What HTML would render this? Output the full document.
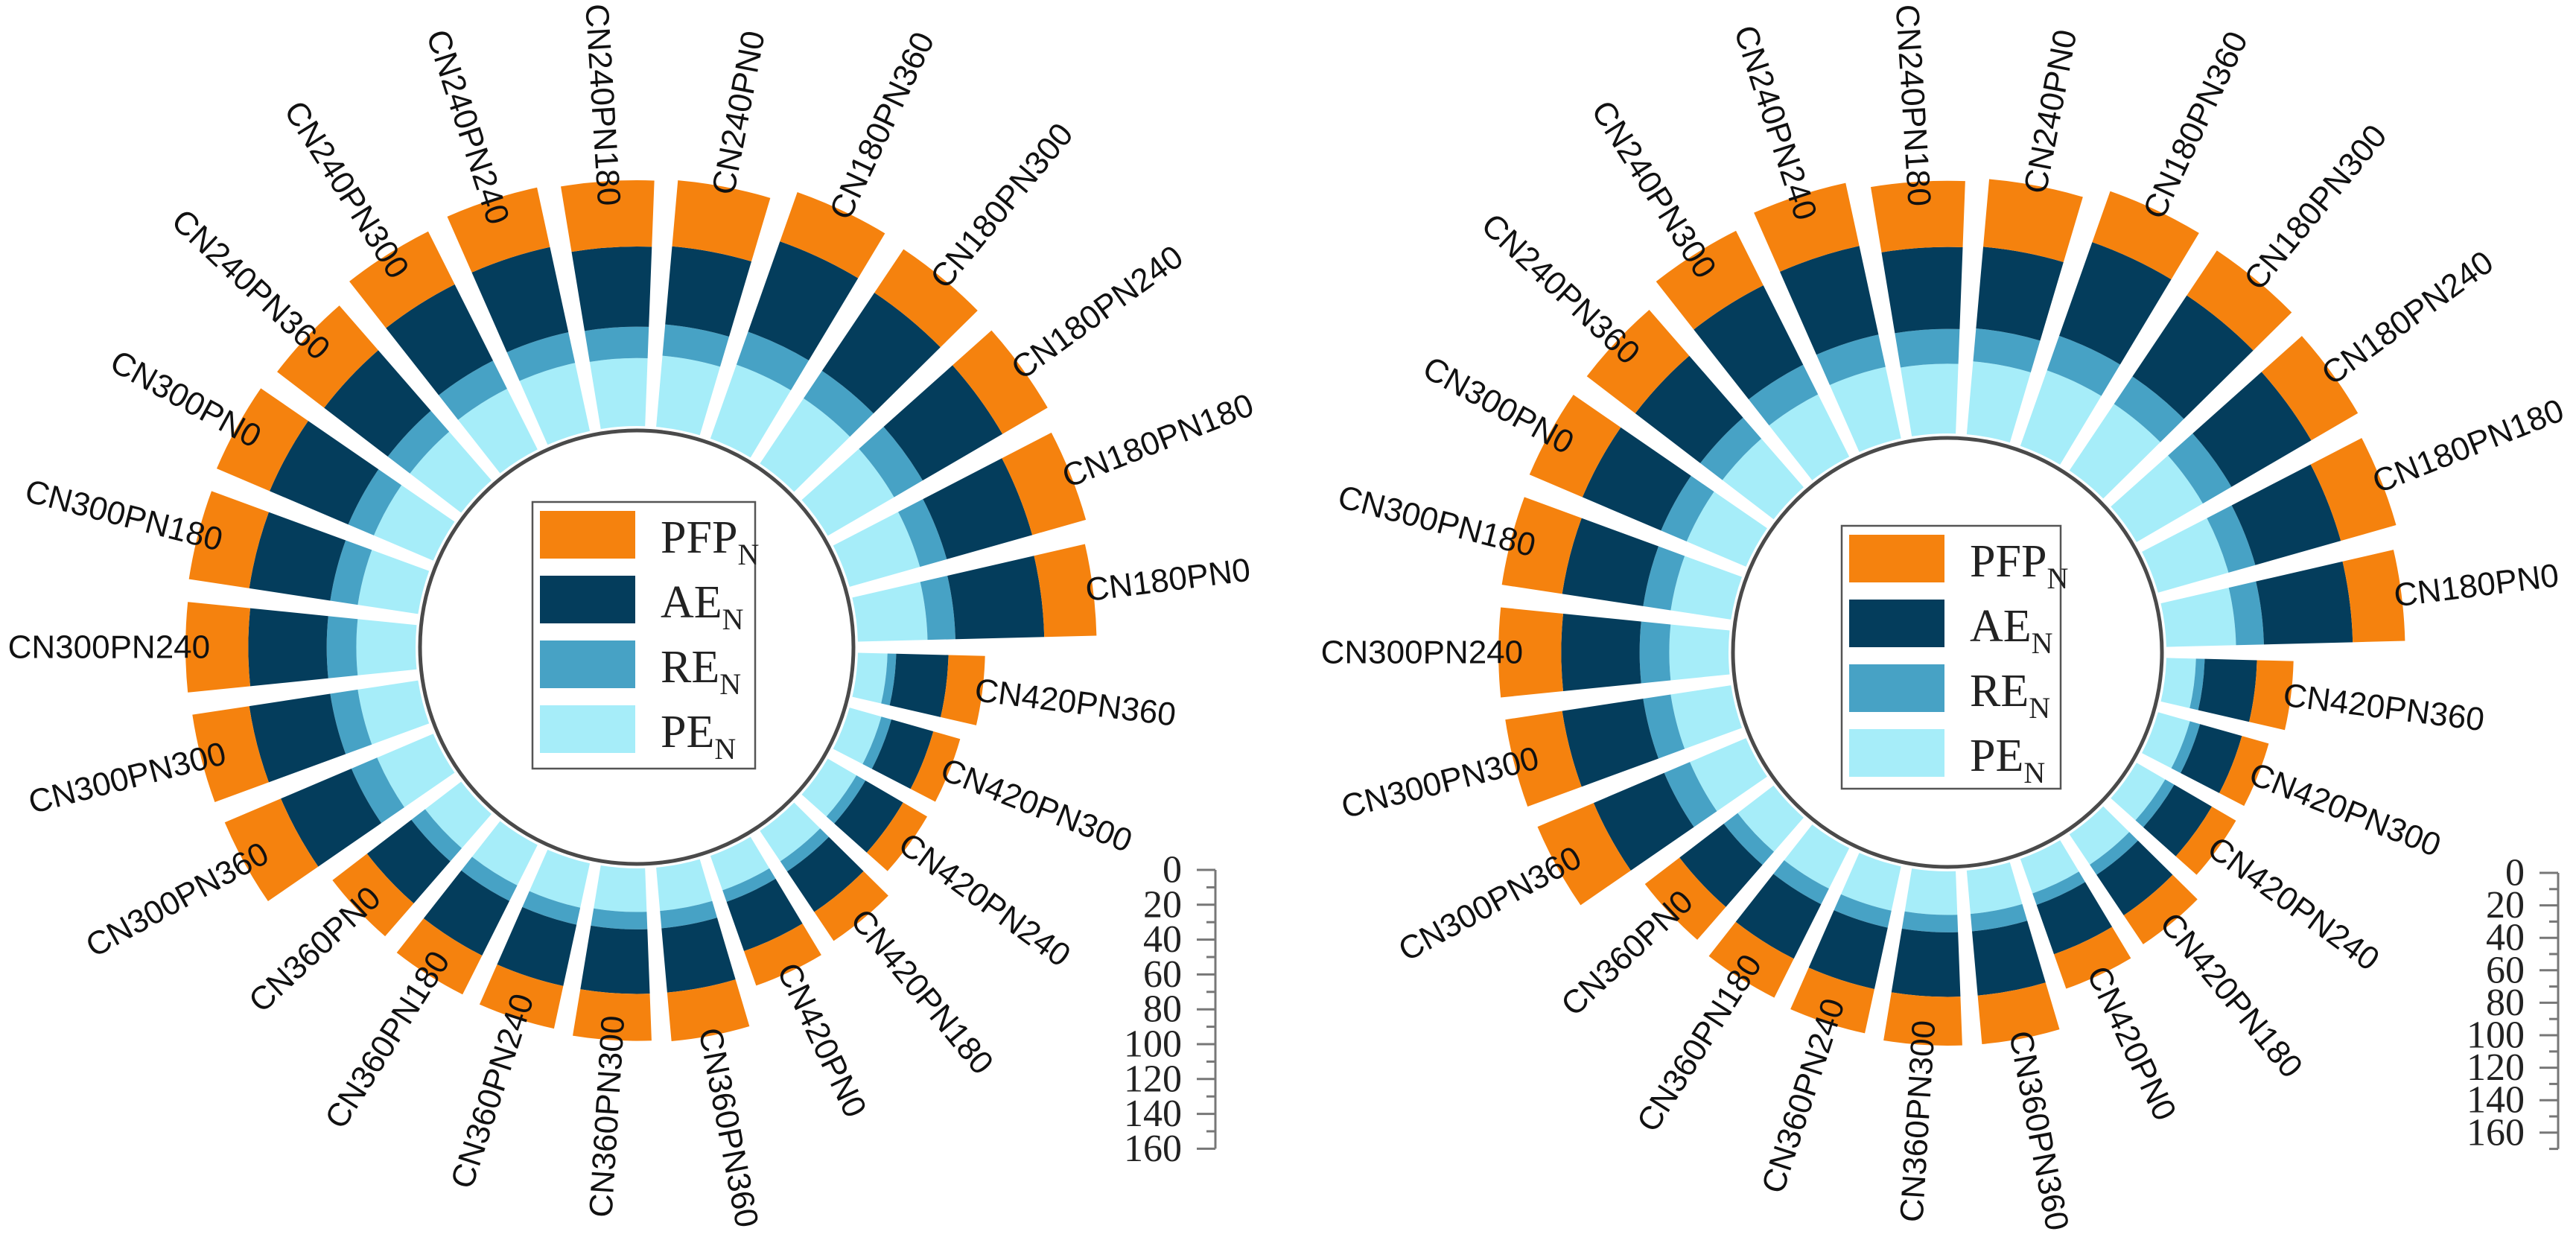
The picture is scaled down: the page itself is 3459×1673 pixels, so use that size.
<!DOCTYPE html>
<html><head><meta charset="utf-8"><style>
html,body{margin:0;padding:0;background:#fff;}
svg{display:block;}
</style></head><body>
<svg id="chart" width="3459" height="1673" viewBox="0 0 3459 1673" xmlns="http://www.w3.org/2000/svg">
<rect width="3459" height="1673" fill="#fff"/>
<g id="left"></g>
<g id="right"></g>
</svg>
<script>
const categories = ["CN180PN0","CN180PN180","CN180PN240","CN180PN300","CN180PN360",
"CN240PN0","CN240PN180","CN240PN240","CN240PN300","CN240PN360",
"CN300PN0","CN300PN180","CN300PN240","CN300PN300","CN300PN360",
"CN360PN0","CN360PN180","CN360PN240","CN360PN300","CN360PN360",
"CN420PN0","CN420PN180","CN420PN240","CN420PN300","CN420PN360"];
const seriesNames = ["PE","RE","AE","PFP"];
const leftPE  = [40,42,44,45,45,41,39,40,39,37,37,35,34,35,35,26,26,26,25,25,21,21,19,19,17];
const leftRE  = [16,16,19,19,20,18,18,18,18,16,16,16,17,16,16,10,10,10,10,10,7,7,6,6,5];
const leftAE  = [51,51,53,54,55,45,46,50,49,46,49,47,45,47,44,32,35,36,37,37,30,28,25,25,30];
const leftPFP = [30,32,30,30,30,38,38,35,34,34,33,35,36,33,35,25,25,25,27,28,21,20,16,16,21];
const rightPE  = [40,42,44,46,46,42,40,42,40,37,37,35,34,35,35,26,26,26,25,25,21,21,19,19,17];
const rightRE  = [16,16,19,19,21,19,20,19,19,16,16,16,17,16,16,10,10,10,10,10,7,7,6,6,5];
const rightAE  = [51,51,53,56,57,47,47,52,51,47,49,47,45,47,44,32,35,36,37,37,30,28,25,25,30];
const rightPFP = [30,33,31,31,31,39,38,37,35,35,33,35,36,33,35,25,25,26,28,28,21,20,16,16,21];
const tickLabels = [0,20,40,60,80,100,120,140,160];

const colors = {PE:"#A6EDF9",RE:"#47A2C5",AE:"#043D5C",PFP:"#F5820E"};
const NS="http://www.w3.org/2000/svg";
function mk(tag, attrs, parent){const e=document.createElementNS(NS,tag);for(const k in attrs)e.setAttribute(k,attrs[k]);parent.appendChild(e);return e;}

function drawChart(g, cfg, pe, re, ae, pfp){
  const cx=cfg.cx, cy=cfg.cy, base=cfg.base, k=cfg.k;
  const step=360/categories.length, half=step*0.4;
  const rScale = v => base + v*k;
  const pt=(r,a)=>{const t=a*Math.PI/180;return [cx+r*Math.cos(t), cy-r*Math.sin(t)];};
  function wedge(r0,r1,a0,a1){
    const p1=pt(r0,a0),p2=pt(r1,a0),p3=pt(r1,a1),p4=pt(r0,a1);
    return `M${p1[0]},${p1[1]} L${p2[0]},${p2[1]} A${r1},${r1} 0 0 0 ${p3[0]},${p3[1]} L${p4[0]},${p4[1]} A${r0},${r0} 0 0 1 ${p1[0]},${p1[1]}Z`;
  }
  categories.forEach((c,i)=>{
    const a=step/2+step*i;
    const vals=[pe[i],re[i],ae[i],pfp[i]];
    let acc=0;
    vals.forEach((v,j)=>{
      const p=mk("path",{d:wedge(rScale(acc),rScale(acc+v),a-half,a+half),fill:colors[seriesNames[j]]},g);
      
      
      acc+=v;
    });
    const outer=rScale(acc);
    const left = a>90 && a<270;
    const r = left ? outer-33 : outer-10;
    const p=pt(r,a);
    const rot = left ? 180-a : -a;
    const t=mk("text",{x:p[0],y:p[1],transform:`rotate(${rot} ${p[0]} ${p[1]})`,"text-anchor":left?"end":"start","dominant-baseline":"central","font-family":"Liberation Sans, sans-serif","font-size":"44",fill:"#111"},g);
    t.textContent=c;
    
    
  });
  const circ=mk("circle",{cx:cx,cy:cy,r:cfg.cr,fill:"#fff",stroke:"#4a4a4a","stroke-width":5},g);
  
  
  const L=cfg.leg;
  const box=mk("rect",{x:L.x,y:L.y,width:L.w,height:L.h,fill:"#fff",stroke:"#555","stroke-width":2.5},g);
  
  
  const legOrder=["PFP","AE","RE","PE"];
  legOrder.forEach((s,j)=>{
    const y=L.y+12+j*87;
    const sw=mk("rect",{x:L.x+10,y:y,width:128,height:64,fill:colors[s]},g);
    
    
    const tx=mk("text",{x:L.x+172,y:y+56,"font-family":"Liberation Serif, serif","font-size":"62",fill:"#222"},g);
    
    
    const m=document.createElementNS(NS,"tspan");m.textContent=s;tx.appendChild(m);
    const sub=document.createElementNS(NS,"tspan");sub.setAttribute("font-size","40");sub.setAttribute("dy","16");sub.textContent="N";tx.appendChild(sub);
  });
  const A=cfg.axis;
  const ay=v=>A.y0+v*A.k;
  const ax=mk("g",{},g);
  
  
  mk("line",{x1:A.x,y1:ay(0),x2:A.x,y2:ay(A.end),stroke:"#777","stroke-width":3},ax);
  for(let v=0; v<=A.end; v+=10){
    const major = v%20===0 && v<=160;
    mk("line",{x1:A.x-(major?25:12),y1:ay(v),x2:A.x,y2:ay(v),stroke:"#777","stroke-width":3},ax);
  }
  tickLabels.forEach(v=>{
    const t=mk("text",{x:A.x-45,y:ay(v),"text-anchor":"end","dominant-baseline":"central","font-family":"Liberation Serif, serif","font-size":"52",fill:"#222"},ax);
    t.textContent=v;
    
    
  });
}
drawChart(document.getElementById("left"),
  {cx:855,cy:869,base:297,k:2.34,cr:291,
   leg:{x:715,y:674,w:299,h:358},
   axis:{x:1632,y0:1168,k:2.34,end:160}},
  leftPE,leftRE,leftAE,leftPFP);
drawChart(document.getElementById("right"),
  {cx:2615,cy:876,base:294,k:2.34,cr:288,
   leg:{x:2473,y:706,w:294,h:353},
   axis:{x:3435,y0:1172,k:2.18,end:170}},
  rightPE,rightRE,rightAE,rightPFP);
</script>
</body></html>
